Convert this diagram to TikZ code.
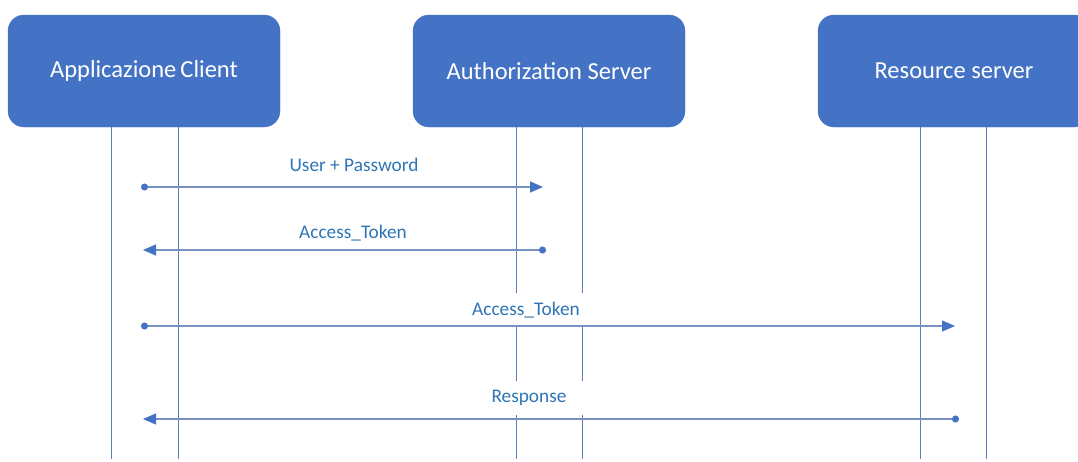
\documentclass[tikz,border=0pt]{standalone}
\usepackage{fontspec}
\setmainfont{Carlito}
\usetikzlibrary{arrows.meta}
\definecolor{boxblue}{HTML}{4472C4}
\definecolor{lineblue}{HTML}{5F7FBA}
\definecolor{msgline}{HTML}{7890C2}
\definecolor{labelblue}{HTML}{2E75B6}
\begin{document}
\begin{tikzpicture}[x=1pt,y=-1pt,
  actor/.style={draw=boxblue,fill=boxblue,rounded corners=16pt,text=white,
    font=\fontsize{24.5}{28}\selectfont,inner sep=0pt,
    minimum width=272pt,minimum height=112pt},
  lifeline/.style={draw=lineblue,line width=0.9pt},
  msg/.style={draw=msgline,line width=1.3pt,
    {Circle[length=7pt,color=boxblue]}-{Triangle[length=13pt,width=11pt,color=boxblue]}},
  msglabel/.style={text=labelblue,font=\fontsize{19.3}{22}\selectfont,inner sep=0pt},
  masked/.style={msglabel,fill=white,minimum width=140pt,minimum height=34pt}]
\useasboundingbox (0,0) rectangle (1078,461);

% participants
\node[actor] (client) at (144,71) {Applicazione\,Client};
\node[actor] (auth) at (549,71) {Authorization Server};
\node[actor] (res) at (954,71) {Resource server};

% lifeline end points
\coordinate (c1t) at (111,127); \coordinate (c1b) at (111,459);
\coordinate (c2t) at (178,127); \coordinate (c2b) at (178,459);
\coordinate (a1t) at (516,127); \coordinate (a1b) at (516,459);
\coordinate (a2t) at (582,127); \coordinate (a2b) at (582,459);
\coordinate (r1t) at (920,127); \coordinate (r1b) at (920,459);
\coordinate (r2t) at (986,127); \coordinate (r2b) at (986,459);
\foreach \l in {c1,c2,a1,a2,r1,r2}
  \draw[lifeline] (\l t) -- (\l b);

% message end points
\coordinate (m1s) at (141,187); \coordinate (m1e) at (543,187);
\coordinate (m2s) at (546,250); \coordinate (m2e) at (143,250);
\coordinate (m3s) at (141,326); \coordinate (m3e) at (955,326);
\coordinate (m4s) at (959,419); \coordinate (m4e) at (143,419);

% message labels
\node[msglabel] (l1) at (354,165) {User + Password};
\node[msglabel] (l2) at (353,233) {Access\_Token};
\node[masked] (l3) at (526,310) {Access\_Token};
\node[masked] (l4) at (529,397.5) {Response};

% messages
\draw[msg] (m1s) -- (m1e);
\draw[msg] (m2s) -- (m2e);
\draw[msg] (m3s) -- (m3e);
\draw[msg] (m4s) -- (m4e);
\end{tikzpicture}
\end{document}
